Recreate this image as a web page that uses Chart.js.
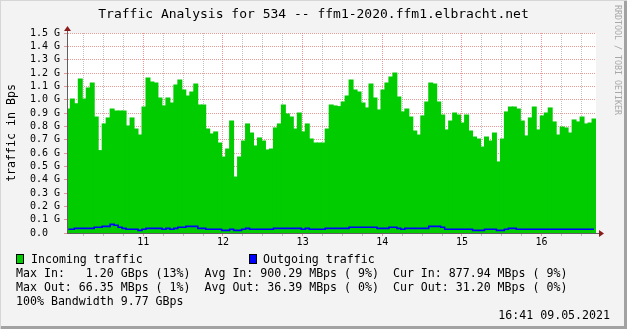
<!DOCTYPE html>
<html>
<head>
<meta charset="utf-8">
<script src="https://cdn.jsdelivr.net/npm/chart.js@4.4.0/dist/chart.umd.min.js"></script>
<style>
  html, body { margin: 0; padding: 0; background: #f3f3f3; }
  #wrap { position: relative; width: 627px; height: 329px; overflow: hidden; font-family: "DejaVu Sans Mono", monospace; color: #000; }
  #wrap canvas { position: absolute; left: 0; top: 0; }
  .txt { position: absolute; white-space: pre; font-size: 11.6px; line-height: 14px; }
  #title { position: absolute; left: 0; width: 627px; top: 5.5px; text-align: center; font-size: 13px; line-height: 16px; white-space: pre; }
  #brand { position: absolute; left: 613px; top: 5px; writing-mode: vertical-rl; font-size: 8.3px; line-height: 9px; color: #a8a8a8; white-space: pre; }
  .box { position: absolute; width: 8px; height: 10px; box-sizing: border-box; border: 1px solid #000; }
  #frame { position: absolute; left: 0; top: 0; width: 627px; height: 329px; box-shadow: inset 1px 1px 0 #d6d6d6, inset -3px -3px 0 #a2a2a2; pointer-events: none; }
</style>
</head>
<body>
<div id="wrap">
  <canvas id="rrd" width="627" height="329"></canvas>
  <div id="title">Traffic Analysis for 534 -- ffm1-2020.ffm1.elbracht.net</div>
  <div id="brand">RRDTOOL / TOBI OETIKER</div>
  <div class="box" style="left:16px;top:254px;background:#00cc00"></div>
  <div class="txt" style="left:31px;top:251.7px">Incoming traffic</div>
  <div class="box" style="left:249px;top:254px;background:#0000ff"></div>
  <div class="txt" style="left:263px;top:251.7px">Outgoing traffic</div>
  <div class="txt" style="left:16px;top:265.7px">Max In:   1.20 GBps (13%)  Avg In: 900.29 MBps ( 9%)  Cur In: 877.94 MBps ( 9%)</div>
  <div class="txt" style="left:16px;top:279.7px">Max Out: 66.35 MBps ( 1%)  Avg Out: 36.39 MBps ( 0%)  Cur Out: 31.20 MBps ( 0%)</div>
  <div class="txt" style="left:16px;top:293.7px">100% Bandwidth 9.77 GBps</div>
  <div class="txt" style="right:17px;top:307.7px">16:41 09.05.2021</div>
  <div id="frame"></div>
</div>
<script>
// traffic in G (Bps), one sample every 3 minutes, 10:02 .. 16:41
var inTraffic = [
  0.930, 1.005, 0.970, 1.155, 1.005, 1.088, 1.125, 0.870, 0.618, 0.818,
  0.863, 0.930, 0.915, 0.915, 0.915, 0.803, 0.863, 0.780, 0.735, 0.945,
  1.163, 1.133, 1.125, 1.013, 0.953, 1.013, 0.975, 1.110, 1.148, 1.073,
  1.028, 1.058, 1.118, 0.960, 0.960, 0.780, 0.743, 0.758, 0.675, 0.570,
  0.630, 0.840, 0.420, 0.570, 0.690, 0.818, 0.750, 0.653, 0.713, 0.690,
  0.623, 0.630, 0.788, 0.818, 0.960, 0.893, 0.870, 0.780, 0.900, 0.758,
  0.818, 0.705, 0.675, 0.675, 0.675, 0.780, 0.960, 0.953, 0.948, 0.983,
  1.028, 1.148, 1.073, 1.058, 0.975, 0.938, 1.118, 1.013, 0.923, 1.073,
  1.125, 1.170, 1.200, 1.020, 0.908, 0.930, 0.870, 0.765, 0.735, 0.878,
  0.983, 1.125, 1.118, 0.983, 0.885, 0.773, 0.840, 0.900, 0.885, 0.825,
  0.885, 0.765, 0.720, 0.705, 0.645, 0.720, 0.690, 0.750, 0.533, 0.705,
  0.908, 0.945, 0.945, 0.930, 0.840, 0.728, 0.863, 0.945, 0.773, 0.878,
  0.900, 0.938, 0.833, 0.735, 0.795, 0.788, 0.750, 0.848, 0.833, 0.870,
  0.818, 0.825, 0.855
];
var outTraffic = [
  0.028, 0.028, 0.035, 0.035, 0.035, 0.035, 0.035, 0.043, 0.043, 0.050,
  0.050, 0.065, 0.058, 0.043, 0.035, 0.028, 0.028, 0.028, 0.020, 0.028,
  0.035, 0.035, 0.035, 0.035, 0.028, 0.035, 0.028, 0.035, 0.043, 0.043,
  0.050, 0.050, 0.050, 0.035, 0.035, 0.028, 0.028, 0.028, 0.028, 0.020,
  0.020, 0.028, 0.020, 0.020, 0.028, 0.035, 0.028, 0.028, 0.028, 0.028,
  0.028, 0.028, 0.035, 0.035, 0.035, 0.035, 0.035, 0.035, 0.035, 0.028,
  0.035, 0.028, 0.028, 0.028, 0.028, 0.035, 0.035, 0.035, 0.035, 0.035,
  0.035, 0.043, 0.043, 0.043, 0.043, 0.043, 0.043, 0.043, 0.035, 0.035,
  0.035, 0.043, 0.043, 0.035, 0.028, 0.035, 0.035, 0.035, 0.035, 0.035,
  0.035, 0.050, 0.050, 0.050, 0.043, 0.028, 0.028, 0.028, 0.028, 0.028,
  0.028, 0.028, 0.020, 0.020, 0.020, 0.028, 0.028, 0.028, 0.020, 0.020,
  0.028, 0.035, 0.035, 0.028, 0.028, 0.028, 0.028, 0.028, 0.028, 0.028,
  0.028, 0.028, 0.028, 0.028, 0.028, 0.028, 0.028, 0.028, 0.028, 0.028,
  0.028, 0.028, 0.028
];
var hourLabels = ["11", "12", "13", "14", "15", "16"];

// minutes after 10:00 (middle of each 3 min sample)
var firstMid = 3.5;
var stepMin = 3;
var sampleTimes = inTraffic.map(function (v, i) { return firstMid + i * stepMin; });

var majorGrid = "rgba(225,110,110,0.7)";
var minorGrid = "rgba(160,160,160,0.65)";
var axisColor = "#5f5f5f";

// white plot area + the red arrows at the ends of the axes
var rrdFrame = {
  id: "rrdFrame",
  beforeDraw: function (chart) {
    var ctx = chart.ctx, a = chart.chartArea;
    ctx.save();
    ctx.fillStyle = "#ffffff";
    ctx.fillRect(a.left, a.top, a.right - a.left, a.bottom - a.top);
    ctx.restore();
  },
  afterDraw: function (chart) {
    var ctx = chart.ctx, a = chart.chartArea;
    ctx.save();
    ctx.strokeStyle = axisColor;
    ctx.lineWidth = 1;
    ctx.beginPath();
    ctx.moveTo(a.left + 0.5, a.top);
    ctx.lineTo(a.left + 0.5, a.top - 3);
    ctx.moveTo(a.right, a.bottom + 0.5);
    ctx.lineTo(a.right + 4, a.bottom + 0.5);
    ctx.stroke();
    ctx.fillStyle = "#8b1c1c";
    ctx.beginPath();
    ctx.moveTo(a.left + 0.5, a.top - 7);
    ctx.lineTo(a.left - 3, a.top - 2);
    ctx.lineTo(a.left + 4, a.top - 2);
    ctx.closePath();
    ctx.fill();
    ctx.beginPath();
    ctx.moveTo(a.right + 8, a.bottom + 0.5);
    ctx.lineTo(a.right + 3, a.bottom - 3);
    ctx.lineTo(a.right + 3, a.bottom + 4);
    ctx.closePath();
    ctx.fill();
    ctx.restore();
  }
};

Chart.defaults.font.family = "DejaVu Sans Mono";
Chart.defaults.color = "#000";

new Chart(document.getElementById("rrd"), {
  type: "bar",
  data: {
    datasets: [{
      type: "line",
      label: "Outgoing traffic",
      data: sampleTimes.map(function (t, i) { return { x: t, y: outTraffic[i] }; }),
      stepped: "middle",
      borderColor: "#0000ff",
      borderWidth: 1.6,
      pointRadius: 0,
      fill: false,
      order: 0
    }, {
      type: "bar",
      label: "Incoming traffic",
      data: sampleTimes.map(function (t, i) { return { x: t, y: inTraffic[i] }; }),
      backgroundColor: "#00cc00",
      borderWidth: 0,
      barPercentage: 1,
      categoryPercentage: 1,
      inflateAmount: 0.5,
      order: 1
    }]
  },
  options: {
    responsive: false,
    devicePixelRatio: 1,
    animation: false,
    layout: { padding: { left: 0, right: 31, top: 33, bottom: 0 } },
    plugins: { legend: { display: false }, tooltip: { enabled: false }, title: { display: false } },
    scales: {
      x: {
        type: "linear",
        min: 2.5,
        max: 401,
        offset: false,
        grid: {
          offset: false,
          lineWidth: 1,
          tickLength: 3,
          color: function (c) { return c.tick && c.tick.value % 60 === 0 ? majorGrid : minorGrid; }
        },
        border: { display: true, color: axisColor, width: 1, dash: [1, 1], z: 1 },
        ticks: {
          stepSize: 15,
          includeBounds: false,
          autoSkip: false,
          maxRotation: 0,
          padding: 0,
          font: { size: 10 },
          callback: function (v) { return v % 60 === 0 ? hourLabels[v / 60 - 1] : ""; }
        },
        afterFit: function (s) { s.height = 96; }
      },
      y: {
        min: 0,
        max: 1.5,
        grid: { color: majorGrid, lineWidth: 1, tickLength: 3 },
        border: { display: true, color: axisColor, width: 1, dash: [1, 1], z: 1 },
        ticks: {
          stepSize: 0.1,
          autoSkip: false,
          padding: 4,
          font: { size: 10 },
          callback: function (v) { return v < 0.05 ? "0.0  " : v.toFixed(1) + " G"; }
        },
        title: {
          display: true,
          text: "traffic in Bps",
          font: { size: 11.6 },
          padding: { top: 5, bottom: 0 }
        },
        afterFit: function (s) { s.width = 67; }
      }
    }
  },
  plugins: [rrdFrame]
});
</script>
</body>
</html>
